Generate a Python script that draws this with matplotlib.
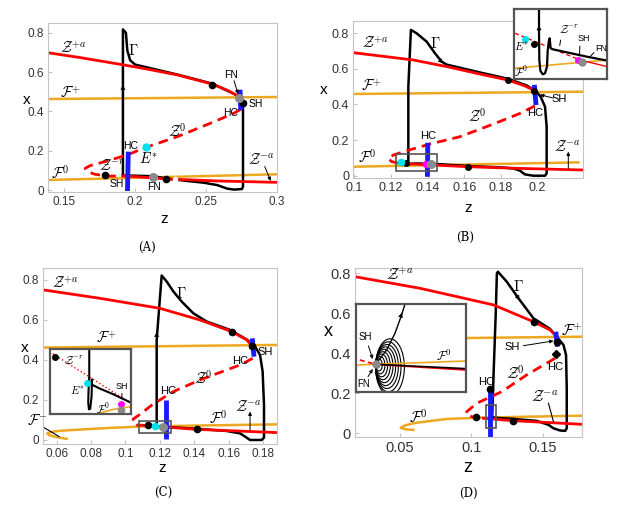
import matplotlib.pyplot as plt
from matplotlib.patches import Rectangle, Ellipse

plt.rcParams['mathtext.fontset'] = 'cm'
plt.rcParams['font.family'] = ['Liberation Sans', 'DejaVu Sans']

RED = '#ff0000'
ORANGE = '#eda81f'
BLUE = '#1a1aff'
GREY = '#8a8a8a'
CYAN = '#00e0f0'
MAG = '#ff00ff'
DASH = (0, (3.5, 2.2))

# ---------------- panel A data (z, x) ----------------
a_zpa_z = [0.1387, 0.16, 0.1907, 0.21, 0.23, 0.2545, 0.265, 0.2734, 0.2746]
a_zpa_x = [0.698, 0.675, 0.638, 0.613, 0.585, 0.539, 0.508, 0.475, 0.42]
a_z0_z = [0.2746, 0.2695, 0.2557, 0.2297, 0.2077, 0.1942, 0.18, 0.1682, 0.1647, 0.1663, 0.1717, 0.18, 0.1942]
a_z0_x = [0.41, 0.39, 0.347, 0.271, 0.217, 0.178, 0.147, 0.124, 0.11, 0.093, 0.08, 0.071, 0.071]
a_zma_z = [0.1942, 0.2226, 0.258, 0.3]
a_zma_x = [0.071, 0.056, 0.046, 0.039]
a_f0_z = [0.1387, 0.3]
a_f0_x = [0.051, 0.080]
a_fp_z = [0.1387, 0.3]
a_fp_x = [0.463, 0.473]
a_gam_z = [0.1914, 0.1914, 0.1914, 0.1935, 0.1945, 0.1965, 0.2, 0.23, 0.2545, 0.2734, 0.2755, 0.2762, 0.2762,
           0.2755, 0.2698, 0.2651, 0.258, 0.2486, 0.2368, 0.2226, 0.2131, 0.199, 0.1914]
a_gam_x = [0.073, 0.4, 0.817, 0.80, 0.71, 0.66, 0.638, 0.587, 0.541, 0.477, 0.455, 0.42, 0.017,
           0.005, 0.002, 0.007, 0.025, 0.037, 0.046, 0.058, 0.07, 0.073, 0.073]
a_black_z = [0.2545, 0.1788, 0.2219, 0.2762]
a_black_x = [0.536, 0.077, 0.056, 0.444]
a_grey_z = [0.2734, 0.2126]
a_grey_x = [0.468, 0.067]
a_cyan = (0.2077, 0.217)
a_blue1_z = [0.1952, 0.1946]
a_blue1_x = [0.195, -0.005]
a_blue2_z = [0.2741, 0.2746]
a_blue2_x = [0.51, 0.407]

# ---------------- panel B data ----------------
b_zpa_z = [0.0995, 0.1322, 0.1504, 0.1685, 0.1836, 0.1931, 0.1976, 0.1991]
b_zpa_x = [0.691, 0.650, 0.613, 0.571, 0.538, 0.504, 0.4815, 0.425]
b_z0_z = [0.1985, 0.1904, 0.1758, 0.1576, 0.1413, 0.1285, 0.1213, 0.1185, 0.1204, 0.1249, 0.1282]
b_z0_x = [0.392, 0.35, 0.29, 0.219, 0.178, 0.14, 0.116, 0.097, 0.079, 0.069, 0.068]
b_zma_z = [0.1282, 0.1618, 0.1904, 0.2249]
b_zma_x = [0.068, 0.0506, 0.041, 0.032]
b_f0_z = [0.0995, 0.2222]
b_f0_x = [0.0506, 0.075]
b_fp_z = [0.0995, 0.2249]
b_fp_x = [0.459, 0.472]
b_gam_z = [0.1295, 0.1295, 0.1309, 0.134, 0.1395, 0.144, 0.1476, 0.1504, 0.1685, 0.1836, 0.194, 0.1991, 0.2016,
           0.204, 0.2049, 0.2049, 0.204, 0.1976, 0.193, 0.1904, 0.1867, 0.1794, 0.1631, 0.1449, 0.134, 0.1295]
b_gam_x = [0.0656, 0.5, 0.819, 0.80, 0.753, 0.688, 0.641, 0.624, 0.580, 0.545, 0.507, 0.474, 0.444,
           0.388, 0.275, 0.013, 0.0, 0.0, 0.0075, 0.028, 0.041, 0.047, 0.054, 0.0656, 0.069, 0.0656]
b_black_z = [0.1836, 0.1618, 0.1982, 0.1282]
b_black_x = [0.538, 0.0506, 0.478, 0.069]
b_cyan = (0.1255, 0.075)
b_mag = (0.1391, 0.0656)
b_grey = (0.1418, 0.0656)
b_blue1_z = [0.1982, 0.1991]
b_blue1_x = [0.51, 0.397]
b_blue2_z = [0.1401, 0.1399]
b_blue2_x = [0.185, -0.006]

# ---------------- panel C data ----------------
c_zpa_z = [0.0523, 0.0852, 0.12, 0.1432, 0.1616, 0.1704, 0.1736, 0.1746]
c_zpa_x = [0.75, 0.708, 0.658, 0.60, 0.542, 0.50, 0.467, 0.425]
c_z0_z = [0.1738, 0.1665, 0.1432, 0.1278, 0.1161, 0.1084, 0.1045, 0.1041, 0.1065, 0.1123]
c_z0_x = [0.408, 0.375, 0.30, 0.242, 0.18, 0.128, 0.105, 0.087, 0.075, 0.072]
c_zma_z = [0.1123, 0.1413, 0.1878]
c_zma_x = [0.072, 0.053, 0.037]
c_f_z = [0.0658, 0.06, 0.0555, 0.0546, 0.0565, 0.062, 0.0755, 0.09, 0.1084, 0.14, 0.1878]
c_f_x = [0.006, 0.014, 0.025, 0.033, 0.040, 0.046, 0.053, 0.06, 0.067, 0.072, 0.078]
c_fp_z = [0.0523, 0.1878]
c_fp_x = [0.462, 0.475]
c_gam_z = [0.1181, 0.1181, 0.121, 0.1239, 0.1278, 0.1326, 0.1394, 0.1471, 0.1607, 0.1704, 0.1752, 0.1781, 0.1796,
           0.1804, 0.1804, 0.1791, 0.1723, 0.1694, 0.1665, 0.1587, 0.1432, 0.1278, 0.12, 0.1181]
c_gam_x = [0.068, 0.5, 0.822, 0.792, 0.742, 0.692, 0.633, 0.592, 0.55, 0.502, 0.467, 0.425, 0.342,
           0.175, 0.012, 0.0, 0.0, 0.017, 0.033, 0.045, 0.055, 0.063, 0.067, 0.068]
c_black_z = [0.1616, 0.1736, 0.1413, 0.1129]
c_black_x = [0.542, 0.47, 0.053, 0.075]
c_cyan = (0.1171, 0.072)
c_grey = (0.122, 0.067)
c_blue1_z = [0.1736, 0.1746]
c_blue1_x = [0.508, 0.417]
c_blue2_z = [0.1233, 0.1233]
c_blue2_x = [0.2, 0.003]

# ---------------- panel D data ----------------
d_zpa_z = [0.0185, 0.064, 0.1154, 0.1434, 0.155, 0.1585, 0.1602]
d_zpa_x = [0.783, 0.725, 0.642, 0.558, 0.517, 0.492, 0.45]
d_z0_z = [0.1585, 0.1387, 0.1212, 0.1037, 0.0967, 0.0962, 0.1002, 0.1084]
d_z0_x = [0.375, 0.292, 0.208, 0.15, 0.108, 0.095, 0.083, 0.075]
d_zma_z = [0.1084, 0.1289, 0.1772]
d_zma_x = [0.075, 0.063, 0.045]
d_f_z = [0.0593, 0.054, 0.0505, 0.053, 0.058, 0.064, 0.0827, 0.106, 0.14, 0.1772]
d_f_x = [0.0165, 0.02, 0.027, 0.038, 0.048, 0.055, 0.0715, 0.078, 0.083, 0.088]
d_fp_z = [0.0185, 0.1772]
d_fp_x = [0.470, 0.483]
d_gam_z = [0.1145, 0.1155, 0.117, 0.1178, 0.1185, 0.1247, 0.1329, 0.1434, 0.155, 0.1602, 0.1644, 0.1662, 0.1667,
           0.1667, 0.1656, 0.162, 0.1574, 0.154, 0.1457, 0.129, 0.1153, 0.1145]
d_gam_x = [0.078, 0.3, 0.6, 0.8, 0.808, 0.758, 0.675, 0.575, 0.522, 0.478, 0.442, 0.392, 0.225,
           0.025, 0.012, 0.014, 0.025, 0.042, 0.062, 0.072, 0.078, 0.078]
d_black_z = [0.1438, 0.1602, 0.113, 0.103, 0.1289]
d_black_x = [0.558, 0.455, 0.22, 0.083, 0.063]
d_diam = (0.159, 0.395)
d_blue1_z = [0.159, 0.1602]
d_blue1_x = [0.508, 0.433]
d_blue2_z = [0.113, 0.113]
d_blue2_x = [0.217, -0.017]

# ---------------- inset data (local inset units, y downwards) ----------------
ib_gam_u = [280, 218, 158, 116, 110, 107, 104, 101, 99, 93, 86, 79, 76, 75, 75]
ib_gam_v = [154, 142, 129, 120, 117, 87, 98, 125, 172, 192, 195, 184, 152, 72, 0]
ib_red_u = [3, 198, 280]
ib_red_v = [72, 152, 172]
ib_or_u = [0, 280]
ib_or_v = [177, 152]

ic_gam_u = [118, 118, 116, 115, 117, 121, 125, 126, 124, 150, 190, 242]
ic_gam_v = [0, 80, 120, 160, 180, 178, 140, 90, 105, 118, 135, 160]
ic_red_u = [0, 242]
ic_red_v = [7, 162]
ic_or_u = [140, 170, 200, 242]
ic_or_v = [194, 185, 178, 172]

id_focus = (57, 181)
id_loop_a = [6, 10, 14, 18, 22, 26, 30, 34, 38, 43]
id_loop_b = [10, 18, 26, 34, 42, 50, 58, 66, 75, 85]
id_exit_u = [57, 90, 115, 133, 145]
id_exit_v = [181, 138, 88, 38, 0]
id_red_u = [10, 57, 328]
id_red_v = [168, 181, 198]
id_blk_u = [57, 328]
id_blk_v = [181, 194]
id_or_u = [0, 328]
id_or_v = [183, 171]

fig = plt.figure(figsize=(6.39, 5.07), dpi=100)


def setup(ax, xlim, ylim, xt, xtl, fs):
    ax.set_xlim(xlim)
    ax.set_ylim(ylim)
    ax.set_xticks(xt)
    ax.set_xticklabels(xtl)
    ax.set_yticks([0, 0.2, 0.4, 0.6, 0.8])
    ax.set_yticklabels(['0', '0.2', '0.4', '0.6', '0.8'])
    for s in ax.spines.values():
        s.set_color('#c4c4c4')
        s.set_linewidth(0.8)
    ax.tick_params(direction='in', length=3, color='#c4c4c4', labelsize=fs,
                   labelcolor='#333333', pad=3)


def put(ax, z, x, s, fs=10.5):
    ax.text(z, x, s, fontsize=fs, ha='center', va='center')


def line_to(ax, p0, p1):
    ax.annotate('', xy=p1, xytext=p0,
                arrowprops=dict(arrowstyle='-|>', color='k', lw=0.7, mutation_scale=5,
                                shrinkA=0, shrinkB=0))


def flow(ax, p0, p1):
    ax.annotate('', xy=p1, xytext=p0,
                arrowprops=dict(arrowstyle='-|>', color='k', lw=0, mutation_scale=9,
                                shrinkA=0, shrinkB=0))


def draw_main(ax, gz, gx, zpa, z0, zma, f0, fp):
    ax.plot(f0[0], f0[1], color=ORANGE, lw=1.8)
    ax.plot(fp[0], fp[1], color=ORANGE, lw=1.8)
    ax.plot(gz, gx, color='k', lw=1.8)
    ax.plot(zpa[0], zpa[1], color=RED, lw=2)
    ax.plot(z0[0], z0[1], color=RED, lw=2, ls=DASH)
    ax.plot(zma[0], zma[1], color=RED, lw=2)


def inset(rect, w, h):
    ai = fig.add_axes(rect)
    ai.set_xlim(0, w)
    ai.set_ylim(h, 0)
    ai.set_xticks([])
    ai.set_yticks([])
    for s in ai.spines.values():
        s.set_color('#555555')
        s.set_linewidth(1.6)
    return ai


# ================= A =================
ax = fig.add_axes([0.0756, 0.6219, 0.3574, 0.3333])
setup(ax, (0.1387, 0.3), (-0.0086, 0.851), [0.15, 0.2, 0.25, 0.3], ['0.15', '0.2', '0.25', '0.3'], 8.5)
draw_main(ax, a_gam_z, a_gam_x, (a_zpa_z, a_zpa_x), (a_z0_z, a_z0_x), (a_zma_z, a_zma_x),
          (a_f0_z, a_f0_x), (a_fp_z, a_fp_x))
ax.plot(a_blue1_z, a_blue1_x, color=BLUE, lw=3.5, solid_capstyle='butt')
ax.plot(a_blue2_z, a_blue2_x, color=BLUE, lw=3.5, solid_capstyle='butt')
ax.plot(a_black_z, a_black_x, 'o', color='k', ms=4.5)
ax.plot(a_grey_z, a_grey_x, 'o', color=GREY, ms=5.5)
ax.plot(*a_cyan, 'o', color=CYAN, ms=5)
ax.plot(0.2285, 0.057, 'o', color='white', ms=3)
flow(ax, (0.1914, 0.48), (0.1914, 0.535))
put(ax, 0.1564, 0.72, r'$\mathcal{Z}^{+a}$')
put(ax, 0.199, 0.712, r'$\Gamma$')
put(ax, 0.2675, 0.585, 'FN', 7.5)
line_to(ax, (0.2699, 0.556), (0.2727, 0.488))
put(ax, 0.285, 0.437, 'SH', 7.5)
put(ax, 0.2675, 0.39, 'HC', 7.5)
put(ax, 0.2297, 0.30, r'$\mathcal{Z}^{0}$')
put(ax, 0.1966, 0.224, 'HC', 7.5)
put(ax, 0.2096, 0.161, r'$E^{*}$')
put(ax, 0.1836, 0.127, r'$\mathcal{Z}^{-r}$')
put(ax, 0.147, 0.09, r'$\mathcal{F}^{0}$')
put(ax, 0.154, 0.492, r'$\mathcal{F}^{+}$')
put(ax, 0.1871, 0.029, 'SH', 7.5)
put(ax, 0.2136, 0.017, 'FN', 7.5)
put(ax, 0.289, 0.153, r'$\mathcal{Z}^{-a}$')
line_to(ax, (0.2916, 0.119), (0.2958, 0.046))

# ================= B =================
ax = fig.add_axes([0.5529, 0.6483, 0.36, 0.311])
setup(ax, (0.0995, 0.2249), (-0.0146, 0.871), [0.1, 0.12, 0.14, 0.16, 0.18, 0.2],
      ['0.1', '0.12', '0.14', '0.16', '0.18', '0.2'], 9)
draw_main(ax, b_gam_z, b_gam_x, (b_zpa_z, b_zpa_x), (b_z0_z, b_z0_x), (b_zma_z, b_zma_x),
          (b_f0_z, b_f0_x), (b_fp_z, b_fp_x))
ax.add_patch(Rectangle((0.1227, 0.028), 0.0226, 0.094, fill=False, ec='#555555', lw=1.2, zorder=5))
ax.plot(b_blue1_z, b_blue1_x, color=BLUE, lw=3.5, solid_capstyle='butt')
ax.plot(b_blue2_z, b_blue2_x, color=BLUE, lw=3.5, solid_capstyle='butt')
ax.plot(b_black_z, b_black_x, 'o', color='k', ms=4)
ax.plot(*b_cyan, 'o', color=CYAN, ms=4.5)
ax.plot(*b_mag, 'o', color=MAG, ms=4.5)
ax.plot(*b_grey, 'o', color=GREY, ms=5.5)
flow(ax, (0.1455, 0.66), (0.1485, 0.632))
put(ax, 0.1113, 0.744, r'$\mathcal{Z}^{+a}$')
put(ax, 0.144, 0.744, r'$\Gamma$')
put(ax, 0.1095, 0.504, r'$\mathcal{F}^{+}$')
put(ax, 0.2118, 0.429, 'SH', 8)
line_to(ax, (0.2085, 0.436), (0.2013, 0.455))
put(ax, 0.1985, 0.354, 'HC', 8)
put(ax, 0.1667, 0.335, r'$\mathcal{Z}^{0}$')
put(ax, 0.1404, 0.225, 'HC', 8)
put(ax, 0.1067, 0.107, r'$\mathcal{F}^{0}$')
put(ax, 0.2158, 0.165, r'$\mathcal{Z}^{-a}$')
line_to(ax, (0.2167, 0.041), (0.2167, 0.135))

ai = inset([0.8044, 0.8442, 0.146, 0.1375], 280, 209)
ai.plot(ib_or_u, ib_or_v, color=ORANGE, lw=1.2)
ai.plot(ib_red_u[:2], ib_red_v[:2], color=RED, lw=1.0, ls=(0, (3, 2)))
ai.plot(ib_red_u[1:], ib_red_v[1:], color=RED, lw=1.0)
ai.plot(ib_gam_u, ib_gam_v, color='k', lw=1.6)
ai.plot(33, 90, 'o', color=CYAN, ms=4)
ai.plot(61, 103, 'o', color='k', ms=4)
ai.plot(191, 152, 'o', color=MAG, ms=4)
ai.plot(205, 157, 'o', color=GREY, ms=5)
flow(ai, (75, 62), (75, 48))
ai.text(22, 112, r'$E^{*}$', fontsize=8, ha='center', va='center')
ai.text(22, 186, r'$\mathcal{F}^{0}$', fontsize=8, ha='center', va='center')
ai.text(165, 62, r'$\mathcal{Z}^{-r}$', fontsize=8, ha='center', va='center')
ai.annotate('', xy=(136, 117), xytext=(141, 84), arrowprops=dict(arrowstyle='-', lw=0.7))
ai.text(208, 88, 'SH', fontsize=6.5, ha='center', va='center')
ai.annotate('', xy=(196, 148), xytext=(198, 102), arrowprops=dict(arrowstyle='-', lw=0.7))
ai.text(262, 117, 'FN', fontsize=6.5, ha='center', va='center')
ai.annotate('', xy=(220, 150), xytext=(246, 124), arrowprops=dict(arrowstyle='-', lw=0.7))

# ================= C =================
ax = fig.add_axes([0.0678, 0.1237, 0.3653, 0.3471])
setup(ax, (0.0523, 0.1878), (-0.0215, 0.858), [0.06, 0.08, 0.1, 0.12, 0.14, 0.16, 0.18],
      ['0.06', '0.08', '0.1', '0.12', '0.14', '0.16', '0.18'], 8.5)
draw_main(ax, c_gam_z, c_gam_x, (c_zpa_z, c_zpa_x), (c_z0_z, c_z0_x), (c_zma_z, c_zma_x),
          (c_f_z, c_f_x), (c_fp_z, c_fp_x))
ax.add_patch(Rectangle((0.108, 0.033), 0.0184, 0.064, fill=False, ec='#555555', lw=1.2, zorder=5))
ax.plot(c_blue1_z, c_blue1_x, color=BLUE, lw=3.5, solid_capstyle='butt')
ax.plot(c_blue2_z, c_blue2_x, color=BLUE, lw=3.5, solid_capstyle='butt')
ax.plot(c_black_z, c_black_x, 'o', color='k', ms=4.5)
ax.plot(*c_cyan, 'o', color=CYAN, ms=4.5)
ax.plot(*c_grey, 'o', color=GREY, ms=5.5)
flow(ax, (0.1181, 0.49), (0.1181, 0.54))
put(ax, 0.0648, 0.783, r'$\mathcal{Z}^{+a}$')
put(ax, 0.1326, 0.733, r'$\Gamma$')
put(ax, 0.089, 0.508, r'$\mathcal{F}^{+}$')
put(ax, 0.1808, 0.442, 'SH', 8)
put(ax, 0.1665, 0.395, 'HC', 8)
put(ax, 0.1452, 0.31, r'$\mathcal{Z}^{0}$')
put(ax, 0.1249, 0.244, 'HC', 8)
put(ax, 0.1713, 0.169, r'$\mathcal{Z}^{-a}$')
line_to(ax, (0.1723, 0.05), (0.1723, 0.142))
put(ax, 0.1539, 0.11, r'$\mathcal{F}^{0}$')
put(ax, 0.0488, 0.097, r'$\mathcal{F}^{-}$')
ax.plot([0.0523, 0.0615], [0.064, 0.017], color='k', lw=0.8)

ai = inset([0.0775, 0.1834, 0.1275, 0.1276], 242, 194)
ai.plot(ic_red_u, ic_red_v, color=RED, lw=1.0, ls=':')
ai.plot(ic_or_u, ic_or_v, color=ORANGE, lw=1.2)
ai.plot(ic_gam_u, ic_gam_v, color='k', lw=1.5)
ai.plot(15, 24, 'o', color='k', ms=4)
ai.plot(112, 100, 'o', color=CYAN, ms=4)
ai.plot(212, 164, 'o', color=MAG, ms=4)
ai.plot(212, 182, 'o', color=GREY, ms=4.5)
ai.text(72, 34, r'$\mathcal{Z}^{-r}$', fontsize=8, ha='center', va='center')
ai.text(82, 124, r'$E^{*}$', fontsize=8, ha='center', va='center')
ai.text(215, 110, 'SH', fontsize=6.5, ha='center', va='center')
ai.annotate('', xy=(215, 157), xytext=(215, 124), arrowprops=dict(arrowstyle='-', lw=0.7))
ai.text(158, 178, r'$\mathcal{F}^{0}$', fontsize=8, ha='center', va='center')

# ================= D =================
ax = fig.add_axes([0.5556, 0.1387, 0.3548, 0.3321])
setup(ax, (0.0185, 0.1772), (-0.017, 0.825), [0.05, 0.1, 0.15], ['0.05', '0.1', '0.15'], 10.5)
draw_main(ax, d_gam_z, d_gam_x, (d_zpa_z, d_zpa_x), (d_z0_z, d_z0_x), (d_zma_z, d_zma_x),
          (d_f_z, d_f_x), (d_fp_z, d_fp_x))
ax.add_patch(Rectangle((0.11, 0.028), 0.007, 0.114, fill=False, ec='#555555', lw=1.2, zorder=5))
ax.plot(d_blue1_z, d_blue1_x, color=BLUE, lw=3.5, solid_capstyle='butt')
ax.plot(d_blue2_z, d_blue2_x, color=BLUE, lw=3.5, solid_capstyle='butt')
ax.plot(d_black_z, d_black_x, 'o', color='k', ms=4.5)
ax.plot(*d_diam, 'D', color='k', ms=4.5)
flow(ax, (0.1305, 0.705), (0.1335, 0.665))
put(ax, 0.05, 0.792, r'$\mathcal{Z}^{+a}$', 11)
put(ax, 0.1329, 0.735, r'$\Gamma$', 11)
put(ax, 0.1702, 0.51, r'$\mathcal{F}^{+}$', 11)
put(ax, 0.1282, 0.433, 'SH', 8)
line_to(ax, (0.1364, 0.438), (0.1574, 0.462))
put(ax, 0.1585, 0.333, 'HC', 8)
put(ax, 0.1305, 0.30, r'$\mathcal{Z}^{0}$', 11)
put(ax, 0.11, 0.258, 'HC', 8)
put(ax, 0.1515, 0.185, r'$\mathcal{Z}^{-a}$', 11)
ax.plot([0.1539, 0.1574], [0.15, 0.058], color='k', lw=0.8)
put(ax, 0.0628, 0.078, r'$\mathcal{F}^{0}$', 11)

ai = inset([0.5579, 0.2262, 0.1718, 0.1742], 328, 265)
ai.set_facecolor('white')
fx, fy = id_focus
for a, b in zip(id_loop_a, id_loop_b):
    ai.add_patch(Ellipse((fx + a, fy + 0.1 * b), 2 * a, 2 * b, fill=False, ec='k', lw=0.8))
ai.plot(id_or_u, id_or_v, color=ORANGE, lw=1.2)
ai.plot(id_red_u[:2], id_red_v[:2], color=RED, lw=1.2, ls=(0, (3, 2)))
ai.plot(id_red_u[1:], id_red_v[1:], color=RED, lw=1.3)
ai.plot(id_blk_u, id_blk_v, color='k', lw=1.2)
ai.plot(id_exit_u, id_exit_v, color='k', lw=1.0)
flow(ai, (128, 50), (136, 26))
ai.plot(fx, fy, 'o', color=GREY, ms=5)
ai.text(25, 100, 'SH', fontsize=7, ha='center', va='center')
ai.annotate('', xy=(51, 173), xytext=(33, 118), arrowprops=dict(arrowstyle='-|>', lw=0.7, mutation_scale=5))
ai.text(22, 240, 'FN', fontsize=7, ha='center', va='center')
ai.annotate('', xy=(53, 188), xytext=(30, 225), arrowprops=dict(arrowstyle='-|>', lw=0.7, mutation_scale=5))
ai.text(262, 158, r'$\mathcal{F}^{0}$', fontsize=9, ha='center', va='center')

# axis labels and captions
fig.text(164 / 639, 1 - 219 / 507, 'z', fontsize=11, ha='center', va='center')
fig.text(27 / 639, 1 - 100 / 507, 'x', fontsize=11, ha='center', va='center')
fig.text(468 / 639, 1 - 208 / 507, 'z', fontsize=11, ha='center', va='center')
fig.text(324 / 639, 1 - 90 / 507, 'x', fontsize=11, ha='center', va='center')
fig.text(162 / 639, 1 - 468 / 507, 'z', fontsize=11, ha='center', va='center')
fig.text(25 / 639, 1 - 348 / 507, 'x', fontsize=11, ha='center', va='center')
fig.text(468 / 639, 1 - 468 / 507, 'z', fontsize=13, ha='center', va='center')
fig.text(328 / 639, 1 - 332 / 507, 'x', fontsize=13, ha='center', va='center')

cap = dict(fontsize=8.5, ha='center', va='center', family='DejaVu Serif')
fig.text(147 / 639, 1 - 247 / 507, '(A)', **cap)
fig.text(465 / 639, 1 - 237 / 507, '(B)', **cap)
fig.text(163 / 639, 1 - 492 / 507, '(C)', **cap)
fig.text(468 / 639, 1 - 493 / 507, '(D)', **cap)

fig.savefig('out.png', dpi=100)
